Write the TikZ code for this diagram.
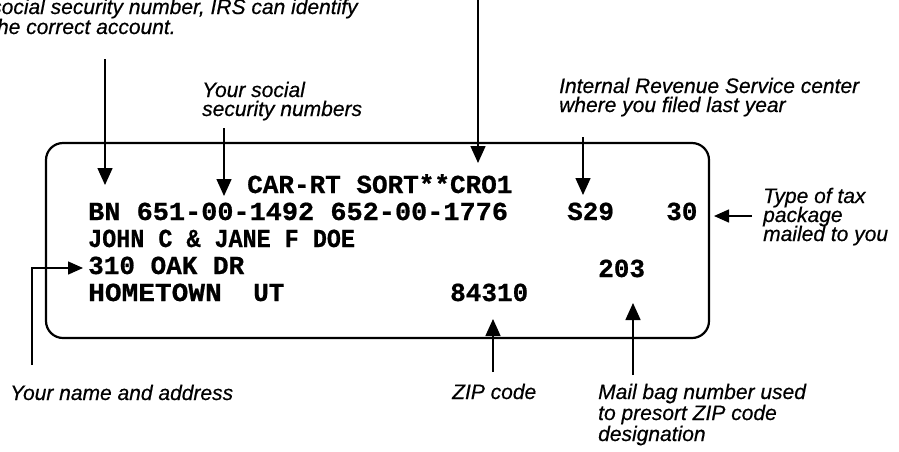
\documentclass[tikz,border=0pt]{standalone}
\usepackage{fontspec}
\setmainfont{Liberation Sans}
\newfontface\typew{Liberation Mono Bold}[FakeBold=0.7]
\newfontface\lblfont{Liberation Sans Italic}[FakeBold=0.5]
\usetikzlibrary{arrows.meta}
\begin{document}
\begin{tikzpicture}[x=1pt,y=-1pt,
  lbl/.style={font=\lblfont\fontsize{21}{21}\selectfont, anchor=base west, inner sep=0pt},
  mono/.style={font=\typew\fontsize{26}{26}\selectfont, anchor=base west, inner sep=0pt},
  ptr/.style={line width=1.5pt, -{Triangle[length=17pt,width=15pt]}},
  ptrs/.style={line width=1.5pt, -{Triangle[length=15pt,width=13pt]}},
  card/.style={draw, line width=2.2pt, rounded corners=17pt, minimum width=663pt, minimum height=195pt, inner sep=0pt}]
\useasboundingbox (0,0) rectangle (899,451);
\clip (0,0) rectangle (899,451);

% card
\node[card] (card) at (377.5,240.5) {};

% card text
\node[mono] (l1) at (247,193) {CAR-RT SORT**CRO1};
\node[mono] (l2) at (88,220) {\scalebox{1.035}[1]{BN 651-00-1492 652-00-1776}};
\node[mono] (s29) at (567,220) {S29};
\node[mono] (n30) at (666,220) {30};
\node[mono] (l3) at (88,247) {\scalebox{0.9}[1]{JOHN C \& JANE F DOE}};
\node[mono] (l4) at (88,274) {310 OAK DR};
\node[mono] (bag) at (598,277) {203};
\node[mono] (l5) at (88,301) {\scalebox{1.07}[1]{HOMETOWN}};
\node[mono] (ut) at (253,301) {UT};
\node[mono] (zip) at (450,301) {84310};

% labels
\node[lbl] (top1) at (-9,14) {social security number, IRS can identify};
\node[lbl] (top2) at (-9,34) {the correct account.};
\node[lbl] (ssn1) at (202,97) {Your social};
\node[lbl] (ssn2) at (202,116) {security numbers};
\node[lbl] (irs1) at (559,93) {Internal Revenue Service center};
\node[lbl] (irs2) at (559,112) {where you filed last year};
\node[lbl] (typ1) at (763,203) {Type of tax};
\node[lbl] (typ2) at (763,222) {package};
\node[lbl] (typ3) at (763,241) {mailed to you};
\node[lbl] (nam) at (10,400) {Your name and address};
\node[lbl] (zipl) at (452,399) {ZIP code};
\node[lbl] (mb1) at (598,399) {Mail bag number used};
\node[lbl] (mb2) at (598,420) {to presort ZIP code};
\node[lbl] (mb3) at (598,441) {designation};

% connector ends
\coordinate (a1s) at (105,59);  \coordinate (a1e) at (105,185);
\coordinate (a2s) at (478,0);   \coordinate (a2e) at (478,163);
\coordinate (a3s) at (224,128); \coordinate (a3e) at (224,196);
\coordinate (a4s) at (583,137); \coordinate (a4e) at (583,195);
\coordinate (a5s) at (752,216); \coordinate (a5e) at (714,216);
\coordinate (a6s) at (32,365);  \coordinate (a6e) at (83,268);
\coordinate (a7s) at (493,372); \coordinate (a7e) at (493,319);
\coordinate (a8s) at (633,375); \coordinate (a8e) at (633,303);

\draw[ptr] (a1s) -- (a1e);
\draw[ptr] (a2s) -- (a2e);
\draw[ptr] (a3s) -- (a3e);
\draw[ptr] (a4s) -- (a4e);
\draw[ptrs] (a5s) -- (a5e);
\draw[ptrs] (a6s) |- (a6e);
\draw[ptr] (a7s) -- (a7e);
\draw[ptr] (a8s) -- (a8e);
\end{tikzpicture}
\end{document}
